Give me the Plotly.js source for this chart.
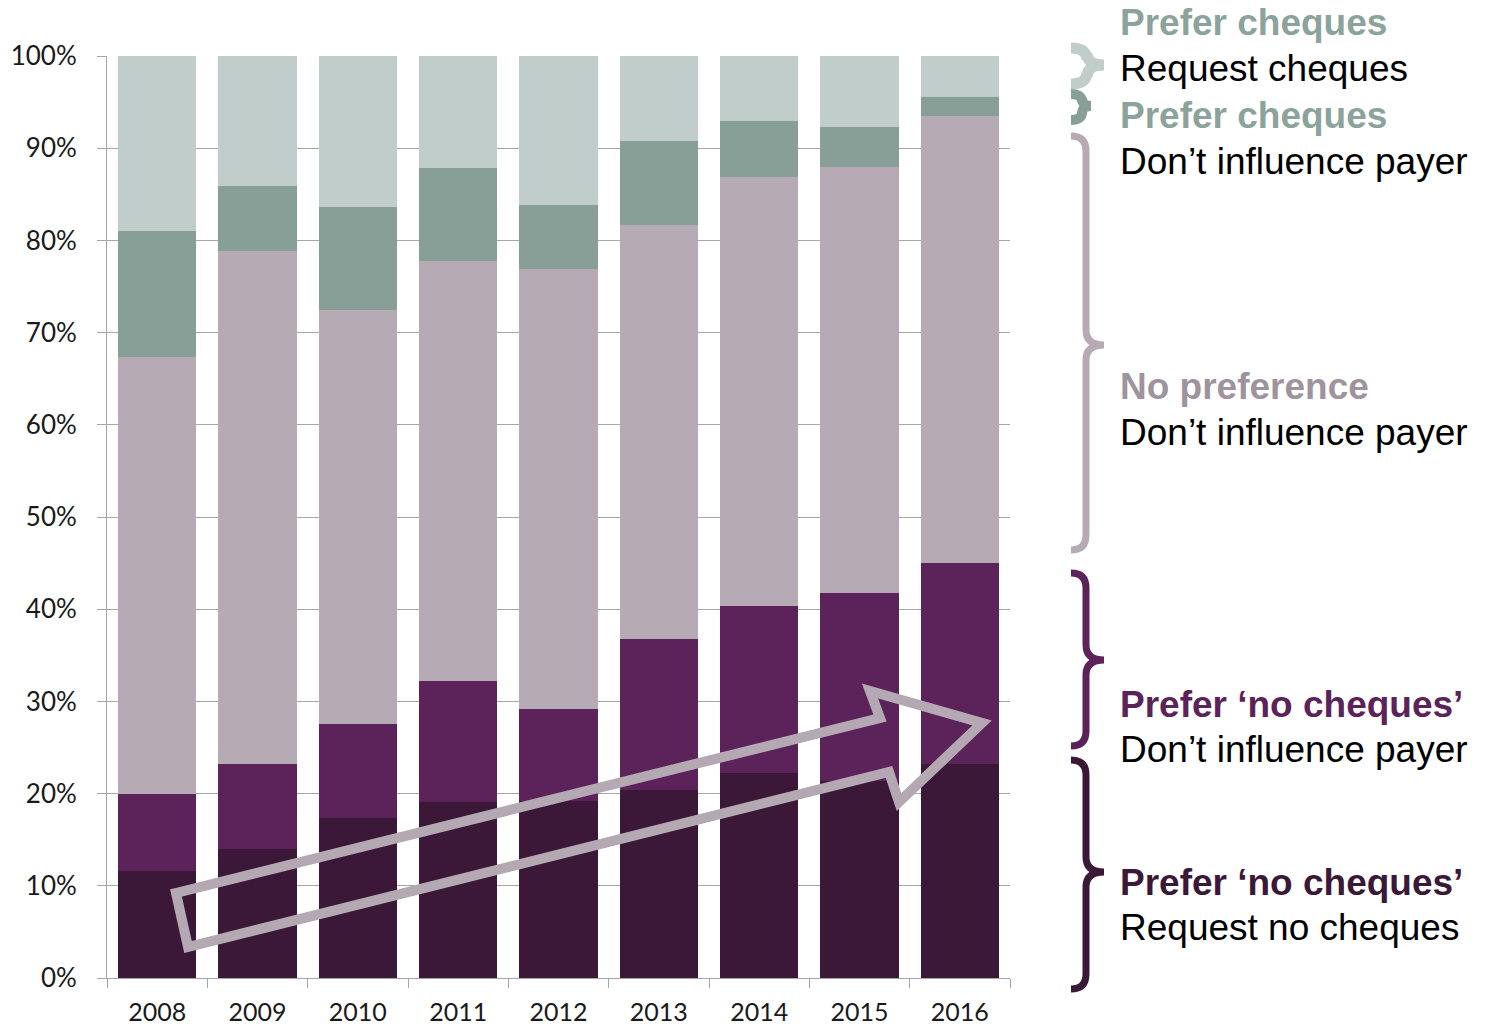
<!DOCTYPE html>
<html>
<head>
<meta charset="utf-8">
<script src="https://cdn.plot.ly/plotly-3.0.1.min.js"></script>
<style>html,body{margin:0;padding:0;background:#fff;}#chart{width:1490px;height:1030px;}</style>
</head>
<body>
<div id="chart"></div>
<script>
// ---- data (share of respondents, %) ----
const years = ['2008','2009','2010','2011','2012','2013','2014','2015','2016'];
const requestNoCheques   = [11.6, 14.0, 17.3, 19.1, 19.2, 20.4, 22.2, 21.4, 23.2];
const preferNoChequesDI  = [8.4, 9.2, 10.2, 13.1, 10.0, 16.4, 18.2, 20.4, 21.8];
const noPreferenceDI     = [47.4, 55.7, 45.0, 45.6, 47.7, 44.9, 46.5, 46.2, 48.5];
const preferChequesDI    = [13.6, 7.0, 11.1, 10.1, 6.9, 9.1, 6.0, 4.3, 2.0];
const requestCheques     = [19.0, 14.1, 16.4, 12.1, 16.2, 9.2, 7.1, 7.7, 4.5];

const C = {dark:'#3b1838', purple:'#5b2359', mauve:'#b6aab5', teal:'#889f98', light:'#c1cdca', arrow:'#b4a9b3'};

const series = [
  {name:'Prefer ‘no cheques’ – Request no cheques', y:requestNoCheques, color:C.dark},
  {name:'Prefer ‘no cheques’ – Don’t influence payer', y:preferNoChequesDI, color:C.purple},
  {name:'No preference – Don’t influence payer', y:noPreferenceDI, color:C.mauve},
  {name:'Prefer cheques – Don’t influence payer', y:preferChequesDI, color:C.teal},
  {name:'Prefer cheques – Request cheques', y:requestCheques, color:C.light}
];
const traces = series.map(s => ({
  type:'bar', x:years, y:s.y.map(v=>v/100), name:s.name,
  marker:{color:s.color, line:{width:0}}, hoverinfo:'x+y+name'
}));

// ---- decoration helpers (pixel -> paper) ----
const L=107, R=1010, T=56, B=978;
const px = x => (x-L)/(R-L);
const py = y => (B-y)/(B-T);
function path(pts, close){
  return pts.map((p,i)=>(i?'L':'M')+px(p[0]).toFixed(5)+','+py(p[1]).toFixed(5)).join(' ')+(close?' Z':'');
}
function brace(top, mid, bot, xl, xv, xt, r){
  const P = (x,y)=>px(x).toFixed(5)+','+py(y).toFixed(5);
  return 'M'+P(xl,top)+' Q'+P(xv,top)+' '+P(xv,top+r)+
         ' L'+P(xv,mid-r)+' Q'+P(xv,mid)+' '+P(xt,mid)+
         ' Q'+P(xv,mid)+' '+P(xv,mid+r)+
         ' L'+P(xv,bot-r)+' Q'+P(xv,bot)+' '+P(xl,bot);
}

const shapes = [
  {type:'path', xref:'paper', yref:'paper', layer:'above',
   path: path([[176,893],[880,718],[870,691],[982,723],[899,802],[889,772],[188,947]], true),
   line:{color:C.arrow, width:10}, fillcolor:'rgba(0,0,0,0)'},
  {type:'path', xref:'paper', yref:'paper', path:brace(48,65,84,1071,1087,1104,12), line:{color:C.light, width:11}},
  {type:'path', xref:'paper', yref:'paper', path:brace(94,106,120,1071,1082,1091,8), line:{color:C.teal, width:10}},
  {type:'path', xref:'paper', yref:'paper', path:brace(136,345,550,1071,1086,1104,15), line:{color:C.mauve, width:7}},
  {type:'path', xref:'paper', yref:'paper', path:brace(573,660,746,1071,1086,1104,15), line:{color:C.purple, width:7}},
  {type:'path', xref:'paper', yref:'paper', path:brace(760,872,989,1071,1086,1104,15), line:{color:C.dark, width:7}}
];

const F = '"Liberation Sans", Arial, sans-serif';
function lab(text, y, color, bold){
  return {xref:'paper', yref:'paper', x:px(1118), y:py(y), xanchor:'left', yanchor:'middle',
    text: bold ? '<b>'+text+'</b>' : text, showarrow:false,
    font:{family:F, size:37, color:color}};
}
const annotations = [
  lab('Prefer cheques', 23, '#8ba39b', true),
  lab('Request cheques', 69, '#000000', false),
  lab('Prefer cheques', 116, '#8ba39b', true),
  lab('Don’t influence payer', 162, '#000000', false),
  lab('No preference', 386, '#9f939e', true),
  lab('Don’t influence payer', 432, '#000000', false),
  lab('Prefer ‘no cheques’', 704, C.purple, true),
  lab('Don’t influence payer', 749, '#000000', false),
  lab('Prefer ‘no cheques’', 882, C.dark, true),
  lab('Request no cheques', 927, '#000000', false)
];

const TF = {family:'Lato, "Open Sans", sans-serif', size:26, color:'#1a1a1a'};
const XF = {family:'Lato, "Open Sans", sans-serif', size:25, color:'#1a1a1a'};
const layout = {
  width:1490, height:1030,
  margin:{l:L, r:1490-R, t:T, b:1030-B, pad:0},
  paper_bgcolor:'#ffffff', plot_bgcolor:'#ffffff',
  barmode:'stack', bargap:0.22,
  showlegend:false,
  font:TF,
  xaxis:{type:'category', tickson:'boundaries', ticks:'outside', ticklen:9, tickcolor:'#a6a6a6',
         showline:true, linecolor:'#a6a6a6', linewidth:1, showgrid:false,
         tickfont:XF, ticklabelstandoff:12},
  yaxis:{range:[0,1], dtick:0.1, tickformat:'.0%', ticks:'outside', ticklen:9, tickcolor:'#a6a6a6',
         showline:true, linecolor:'#a6a6a6', linewidth:1, showgrid:true, gridcolor:'#a6a6a6', gridwidth:1,
         zeroline:false, fixedrange:true,
         tickfont:TF, ticklabelstandoff:15},
  shapes:shapes, annotations:annotations
};

Plotly.newPlot('chart', traces, layout, {displayModeBar:false, staticPlot:true});
</script>
</body>
</html>
